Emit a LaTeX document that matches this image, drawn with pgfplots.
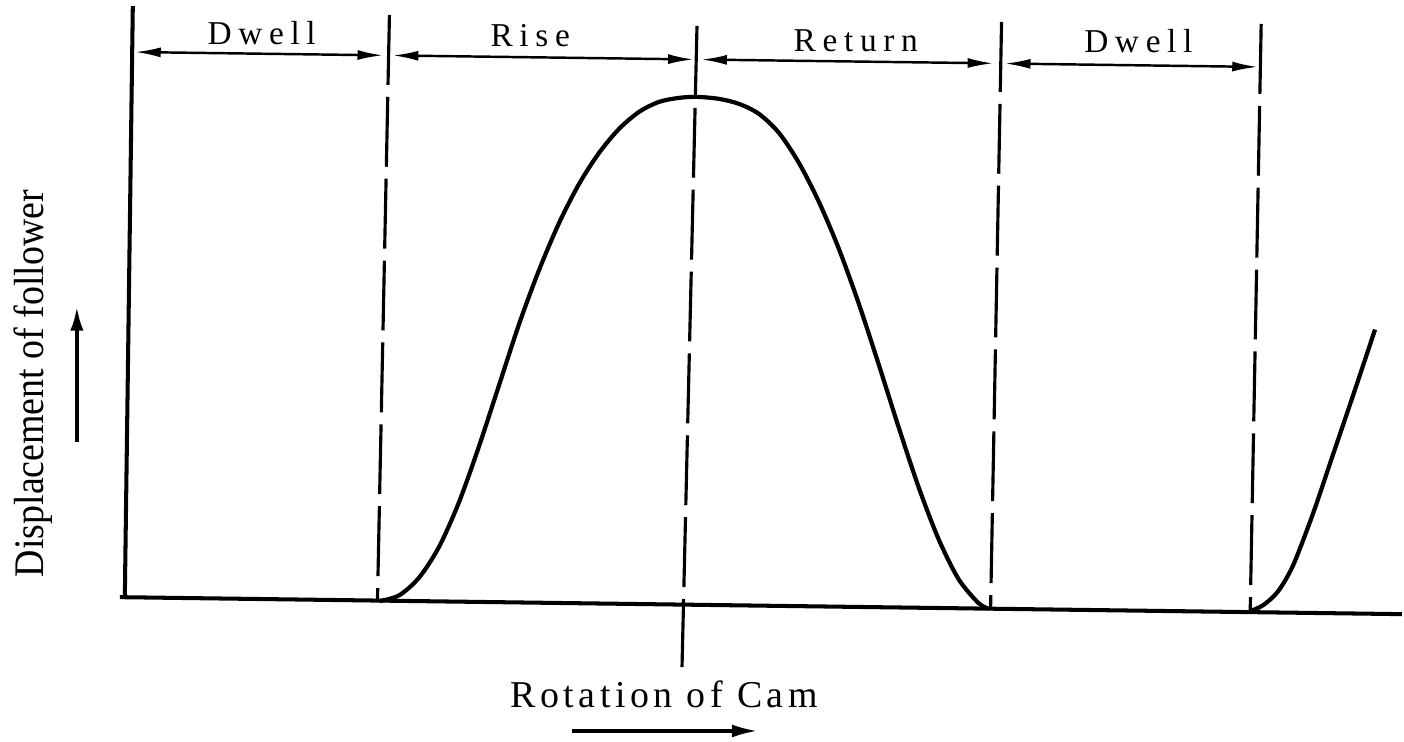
\documentclass[border=0pt]{standalone}
\usepackage{pgfplots}
\pgfplotsset{compat=1.18}
\usetikzlibrary{arrows.meta}
\usepackage{fontspec}
\setmainfont{Liberation Serif}
\newfontfamily\lsfont[LetterSpace=20]{Liberation Serif}
\newfontfamily\rotfont[LetterSpace=12]{Liberation Serif}
\newfontfamily\ylfont[FakeStretch=0.9]{Liberation Serif}
\begin{document}
\begin{tikzpicture}
\begin{axis}[
  width=14.04cm, height=7.43cm, scale only axis,
  xmin=0, xmax=1404, ymin=0, ymax=743, y dir=reverse,
  axis lines=none, ticks=none, clip=false,
]
\addplot[draw=none, forget plot] coordinates {(0,0) (1404,743)};
% axes
\addplot[line width=1.15pt] coordinates {(133,6) (125,598)};
\addplot[line width=1.15pt] coordinates {(120,598) (1404,615)};
% dashed boundaries
\addplot[line width=0.9pt, dash pattern=on 7mm off 1.2mm] coordinates {(390,15) (378,602)};
\addplot[line width=0.9pt, dash pattern=on 7mm off 1.2mm] coordinates {(698,26) (683,668)};
\addplot[line width=0.9pt, dash pattern=on 7mm off 1.2mm] coordinates {(1003,22) (992,610)};
\addplot[line width=0.9pt, dash pattern=on 7mm off 1.2mm] coordinates {(1263,24) (1252,612)};
% dimension arrows
\addplot[line width=0.7pt, {Latex[length=2.6mm,width=1mm]}-{Latex[length=2.6mm,width=1mm]}] coordinates {(135,52.1) (384,55.4)};
\addplot[line width=0.7pt, {Latex[length=2.6mm,width=1mm]}-{Latex[length=2.6mm,width=1mm]}] coordinates {(393,55.5) (695,59.5)};
\addplot[line width=0.7pt, {Latex[length=2.6mm,width=1mm]}-{Latex[length=2.6mm,width=1mm]}] coordinates {(702,59.6) (995,63.4)};
\addplot[line width=0.7pt, {Latex[length=2.6mm,width=1mm]}-{Latex[length=2.6mm,width=1mm]}] coordinates {(1006,63.6) (1260,67)};
% displacement curve: rise and return
\addplot[line width=1.2pt, smooth, line join=round] coordinates {
(380,602) (400,596) (420,578) (440,547) (460,502) (480,446) (500,385) (520,324)
(540,270) (560,223) (580,184) (600,153) (620,129) (640,112) (660,102) (680,98)
(698,97) (720,99) (740,104) (760,114) (780,133) (800,163) (820,202) (840,249)
(860,304) (880,365) (900,428) (920,488) (940,540) (960,580) (980,604) (990,609.5)};
% next rise
\addplot[line width=1.2pt, smooth, line join=round] coordinates {
(1252,612) (1265,606) (1280,592) (1295,566) (1315,514) (1335,455) (1355,396) (1377,330)};
% axis direction arrows
\addplot[line width=1.3pt, -{Latex[length=2.6mm,width=1.3mm]}] coordinates {(77,443) (77,305)};
\addplot[line width=1pt, -{Latex[length=2.6mm,width=1.3mm]}] coordinates {(573,732) (759,732)};
% labels
\node[font=\lsfont\fontsize{9.5}{11}\selectfont] at (axis cs:262,33) {Dwell};
\node[font=\lsfont\fontsize{9.5}{11}\selectfont] at (axis cs:531,36) {Rise};
\node[font=\lsfont\fontsize{9.5}{11}\selectfont] at (axis cs:857,41) {Return};
\node[font=\lsfont\fontsize{9.5}{11}\selectfont] at (axis cs:1140,41) {Dwell};
\node[font=\rotfont\fontsize{10.8}{13}\selectfont] at (axis cs:665,695) {Rotation of Cam};
\node[rotate=90, font=\ylfont\fontsize{12}{14}\selectfont] at (axis cs:33,384) {Displacement of follower};
\end{axis}
\end{tikzpicture}
\end{document}
